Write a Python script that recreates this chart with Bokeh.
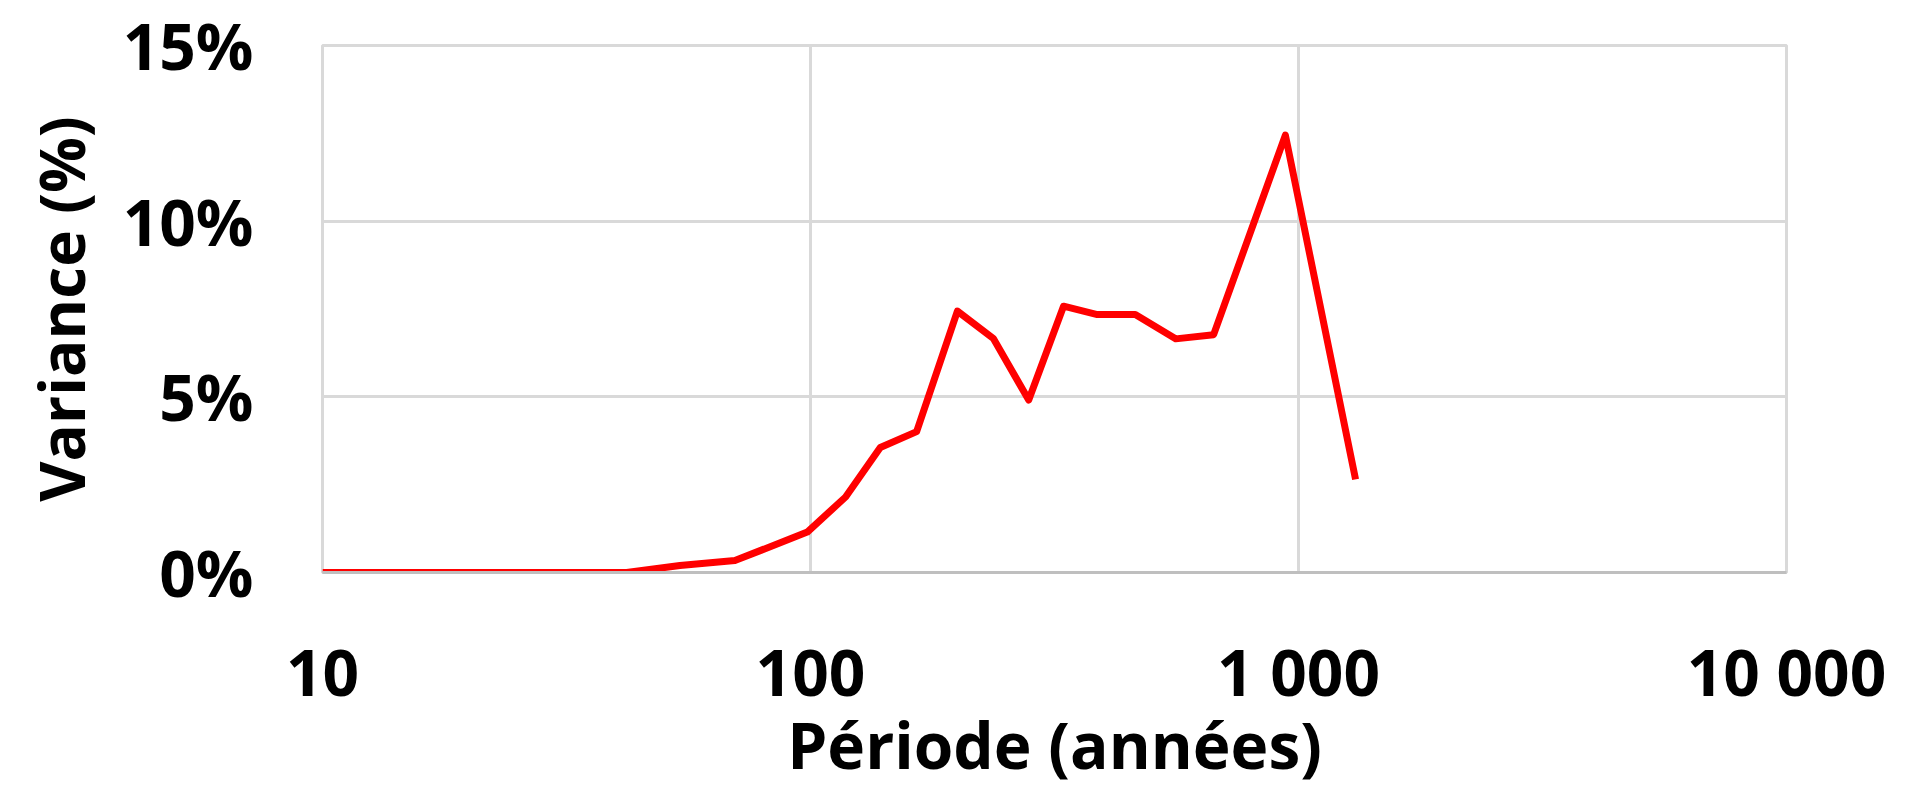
from bokeh.plotting import figure
from bokeh.models import Range1d, FixedTicker
from bokeh.embed import file_html
from bokeh.resources import INLINE

# Data
periods = [10, 20, 30, 42, 54, 70, 98.5, 118, 139, 165, 200, 237, 280, 330, 387, 463, 560, 670, 940, 1309]
variance_pct = [0, 0, 0, 0, 0.2, 0.34, 1.15, 2.15, 3.56, 4.01, 7.44, 6.66, 4.91, 7.58, 7.34, 7.34, 6.65, 6.77, 12.45, 2.65]

x_ticks = [10, 100, 1000, 10000]
x_tick_labels = ["10", "100", "1 000", "10 000"]
y_ticks = [0, 5, 10, 15]
y_tick_labels = ["0%", "5%", "10%", "15%"]

FONT = "Open Sans"

p = figure(width=1904, height=790, x_axis_type="log",
           x_range=Range1d(10, 10000), y_range=Range1d(0, 15),
           output_backend="svg", toolbar_location=None,
           min_border_left=322, min_border_right=118,
           min_border_top=45, min_border_bottom=218)

p.background_fill_color = "white"
p.border_fill_color = "white"
p.outline_line_color = "#d9d9d9"
p.outline_line_width = 3

p.line(periods, variance_pct, line_color="#ff0000", line_width=7, line_join="round")

# x axis
xa = p.xaxis[0]
xa.ticker = FixedTicker(ticks=x_ticks, minor_ticks=[])
xa.major_label_overrides = {t: l for t, l in zip(x_ticks, x_tick_labels)}
xa.axis_line_color = "#bfbfbf"
xa.axis_line_width = 3
xa.major_tick_line_color = None
xa.minor_tick_line_color = None
xa.major_tick_out = 0
xa.major_tick_in = 0
xa.major_label_standoff = 55
xa.major_label_text_font = FONT
xa.major_label_text_font_style = "bold"
xa.major_label_text_font_size = "64px"
xa.major_label_text_color = "black"
xa.axis_label = "Période (années)"
xa.axis_label_text_font = FONT
xa.axis_label_text_font_style = "bold"
xa.axis_label_text_font_size = "64px"
xa.axis_label_text_color = "black"
xa.axis_label_standoff = -17

# y axis
ya = p.yaxis[0]
ya.ticker = FixedTicker(ticks=y_ticks, minor_ticks=[])
ya.major_label_overrides = {t: l for t, l in zip(y_ticks, y_tick_labels)}
ya.axis_line_color = None
ya.major_tick_line_color = None
ya.minor_tick_line_color = None
ya.major_tick_out = 0
ya.major_tick_in = 0
ya.major_label_standoff = 69
ya.major_label_text_font = FONT
ya.major_label_text_font_style = "bold"
ya.major_label_text_font_size = "64px"
ya.major_label_text_color = "black"
ya.axis_label = "Variance (%)"
ya.axis_label_text_font = FONT
ya.axis_label_text_font_style = "bold"
ya.axis_label_text_font_size = "62px"
ya.axis_label_text_color = "black"
ya.axis_label_standoff = 17

# grids
p.xgrid.ticker = FixedTicker(ticks=x_ticks, minor_ticks=[])
p.ygrid.ticker = FixedTicker(ticks=y_ticks, minor_ticks=[])
p.xgrid.grid_line_color = "#d9d9d9"
p.ygrid.grid_line_color = "#d9d9d9"
p.xgrid.grid_line_width = 3
p.ygrid.grid_line_width = 3

open("out.html", "w").write(file_html(p, INLINE))
